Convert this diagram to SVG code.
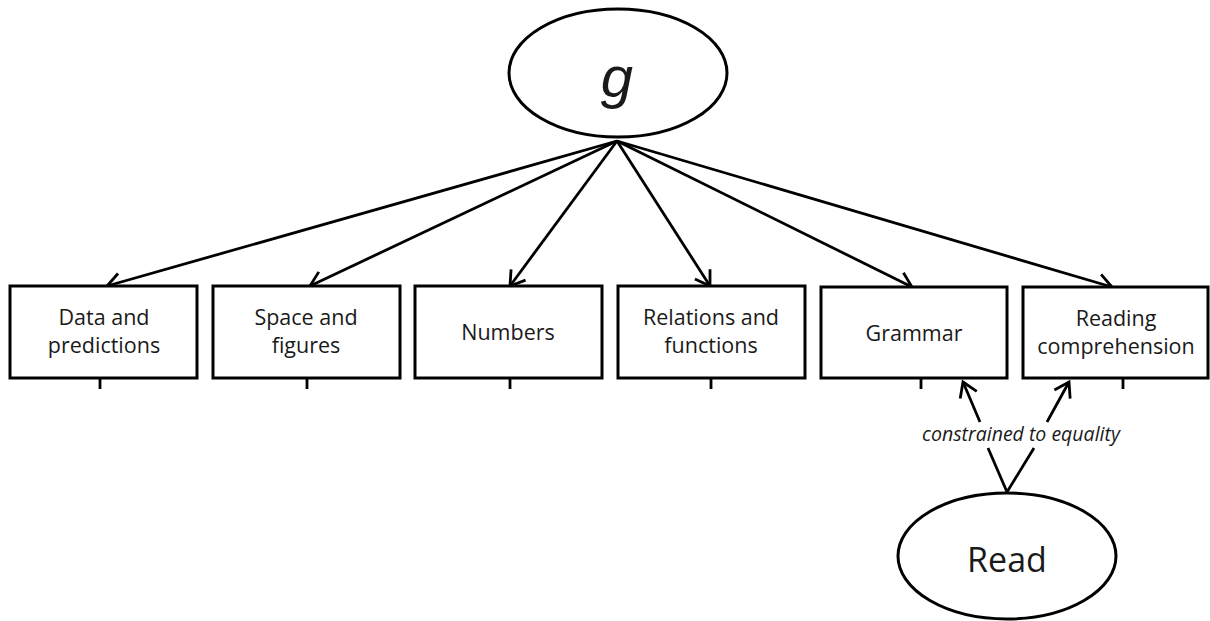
<svg xmlns="http://www.w3.org/2000/svg" width="1210" height="621" viewBox="0 0 1210 621">
<style>
.box{fill:#fff;stroke:#000;stroke-width:3}
.ell{fill:#fff;stroke:#000;stroke-width:3}
.lbl{font-family:"Open Sans","Liberation Sans",sans-serif;font-size:21.5px;fill:#1a1a1a;text-anchor:middle}
.con{fill:none;stroke:#000;stroke-width:2.8}
.tick{stroke:#000;stroke-width:2.8}
</style>
<defs>
<marker id="arr" markerUnits="userSpaceOnUse" markerWidth="30" markerHeight="30" refX="15" refY="15" orient="auto" viewBox="0 0 30 30" overflow="visible">
<path d="M1,6 L15,15 L1,24" fill="none" stroke="#000" stroke-width="2.8"/>
</marker>
</defs>
<rect width="1210" height="621" fill="#fff"/>
<g id="connectors">
<line class="con" x1="617" y1="141" x2="107" y2="286" marker-end="url(#arr)"/>
<line class="con" x1="617" y1="141" x2="310" y2="286" marker-end="url(#arr)"/>
<line class="con" x1="617" y1="141" x2="510" y2="286" marker-end="url(#arr)"/>
<line class="con" x1="617" y1="141" x2="710" y2="286" marker-end="url(#arr)"/>
<line class="con" x1="617" y1="141" x2="912" y2="287" marker-end="url(#arr)"/>
<line class="con" x1="617" y1="141" x2="1112" y2="287" marker-end="url(#arr)"/>
<path class="con" d="M1007,492 L988,448 M980,422 L963,382" marker-end="url(#arr)"/>
<path class="con" d="M1007,492 L1034,448 M1047,422 L1069,382" marker-end="url(#arr)"/>
<line class="tick" x1="100" y1="378" x2="100" y2="389"/>
<line class="tick" x1="307" y1="378" x2="307" y2="389"/>
<line class="tick" x1="510" y1="378" x2="510" y2="389"/>
<line class="tick" x1="711" y1="378" x2="711" y2="389"/>
<line class="tick" x1="921" y1="378" x2="921" y2="389"/>
<line class="tick" x1="1123" y1="378" x2="1123" y2="389"/>
<text x="1021" y="441" font-family="'Open Sans','Liberation Sans',sans-serif" font-style="italic" font-size="19.5" fill="#1a1a1a" text-anchor="middle">constrained to equality</text>
</g>
<g id="g">
<ellipse class="ell" cx="618" cy="73" rx="109" ry="64"/>
<text x="617" y="97" font-family="'Liberation Sans','Open Sans',sans-serif" font-style="italic" font-size="58" fill="#1a1a1a" text-anchor="middle">g</text>
</g>
<g id="read">
<ellipse class="ell" cx="1007" cy="556" rx="109" ry="63"/>
<text x="1007" y="572" font-family="'Open Sans','Liberation Sans',sans-serif" font-size="34" fill="#1a1a1a" text-anchor="middle">Read</text>
</g>
<g id="data">
<rect class="box" x="10" y="286" width="187" height="92"/>
<text class="lbl" x="104" y="325">Data and</text>
<text class="lbl" x="104" y="353">predictions</text>
</g>
<g id="space">
<rect class="box" x="213" y="286" width="187" height="92"/>
<text class="lbl" x="306" y="325">Space and</text>
<text class="lbl" x="306" y="353">figures</text>
</g>
<g id="numbers">
<rect class="box" x="415" y="286" width="187" height="92"/>
<text class="lbl" x="508" y="340">Numbers</text>
</g>
<g id="relations">
<rect class="box" x="618" y="286" width="187" height="92"/>
<text class="lbl" x="711" y="325">Relations and</text>
<text class="lbl" x="711" y="353">functions</text>
</g>
<g id="grammar">
<rect class="box" x="821" y="287" width="186" height="91"/>
<text class="lbl" x="914" y="341">Grammar</text>
</g>
<g id="reading">
<rect class="box" x="1023" y="287" width="185" height="91"/>
<text class="lbl" x="1116" y="326">Reading</text>
<text class="lbl" x="1116" y="354">comprehension</text>
</g>
</svg>
